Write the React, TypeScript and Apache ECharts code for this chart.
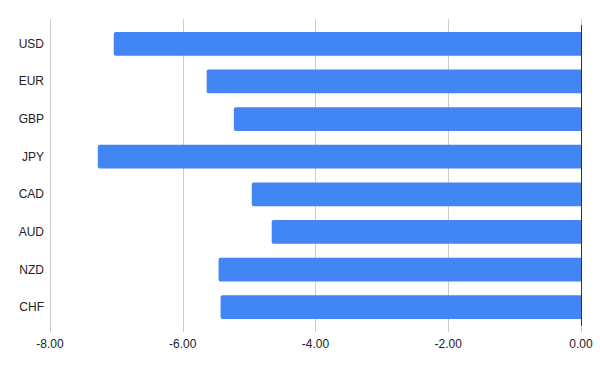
import React, { useEffect, useRef } from "react";
import * as echarts from "echarts";

const categories = ["USD", "EUR", "GBP", "JPY", "CAD", "AUD", "NZD", "CHF"];
const values = [-7.04, -5.64, -5.23, -7.28, -4.96, -4.66, -5.46, -5.43];
const xMin = -8;
const xMax = 0;
const xInterval = 2;

export default function App() {
  const ref = useRef<HTMLDivElement>(null);
  useEffect(() => {
    document.body.style.margin = "0";
    if (!ref.current) return;
    const chart = echarts.init(ref.current, null, { renderer: "svg" });
    const font = "'Liberation Sans', Arial, sans-serif";
    chart.setOption({
      animation: false,
      backgroundColor: "#ffffff",
      grid: { left: 50, right: 19, top: 25, bottom: 45, containLabel: false },
      xAxis: [
        {
          type: "value",
          min: xMin,
          max: xMax,
          interval: xInterval,
          position: "bottom",
          axisLine: { show: false },
          axisTick: { show: true, length: 6, lineStyle: { color: "#cccccc" } },
          splitLine: {
            show: true,
            lineStyle: { color: ["#cccccc", "#cccccc", "#cccccc", "#cccccc", "#333333"], width: 1 },
          },
          axisLabel: {
            color: "#222222",
            fontFamily: font,
            fontSize: 12,
            margin: 12,
            formatter: (v: number) => v.toFixed(2),
          },
        },
        {
          type: "value",
          min: xMin,
          max: xMax,
          interval: xInterval,
          position: "top",
          axisLine: { show: false },
          axisTick: { show: true, length: 6, lineStyle: { color: "#cccccc" } },
          splitLine: { show: false },
          axisLabel: { show: false },
        },
      ],
      yAxis: {
        type: "category",
        data: categories,
        inverse: true,
        axisLine: { show: false, onZero: false },
        axisTick: { show: false },
        axisLabel: { color: "#222222", fontFamily: font, fontSize: 12, margin: 6 },
      },
      series: [
        {
          type: "bar",
          data: values,
          xAxisIndex: 0,
          barCategoryGap: "37%",
          itemStyle: { color: "#4285f4", borderRadius: [2, 0, 0, 2] },
        },
      ],
    });
    return () => chart.dispose();
  }, []);
  return <div ref={ref} style={{ width: 600, height: 371 }} />;
}
